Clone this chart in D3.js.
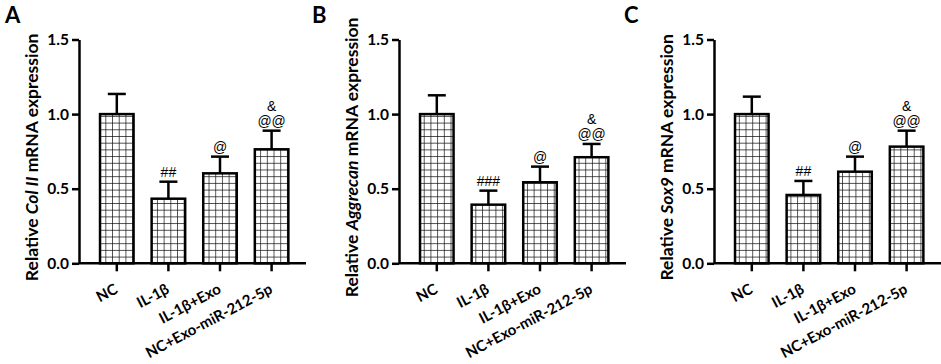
<!DOCTYPE html>
<html>
  <head>
    <meta charset="utf-8">
    <title>Relative mRNA expression</title>
    <script src="https://cdn.jsdelivr.net/npm/d3@7"></script>
    <style>
      body { margin: 0; background: #fff; }
      svg { display: block; }
      text { font-family: Lato, "Open Sans", sans-serif; }
      .axis path, .axis line { stroke: #000; stroke-width: 2.5px; }
      .axis text { font-size: 15.5px; font-weight: 700; fill: #000; }
      .xlab { font-size: 15px; font-weight: 700; }
      .ylabel { font-size: 17.5px; font-weight: 700; }
      .letter { font-size: 22px; font-weight: 700; }
      .mark { font-family: "Liberation Sans", Arial, sans-serif; font-size: 14px; }
    </style>
  </head>

  <body>
    <div id="container"></div>

    <script>
      // data
      groups = ["NC", "IL-1β", "IL-1β+Exo", "NC+Exo-miR-212-5p"];
      yTicks = [0, 0.5, 1.0, 1.5];

      colII = [1.0, 0.433, 0.603, 0.764];
      colIIErr = [0.135, 0.114, 0.112, 0.125];
      aggrecan = [1.0, 0.393, 0.543, 0.711];
      aggrecanErr = [0.126, 0.094, 0.105, 0.089];
      sox9 = [1.0, 0.458, 0.614, 0.782];
      sox9Err = [0.117, 0.094, 0.101, 0.107];

      colIIMarks = [[], ["##"], ["@"], ["@@", "&"]];
      aggrecanMarks = [[], ["###"], ["@"], ["@@", "&"]];
      sox9Marks = [[], ["##"], ["@"], ["@@", "&"]];

      panels = [
        {letter: "A", gene: "Col II", values: colII, err: colIIErr, marks: colIIMarks, left: 79, lx: 5},
        {letter: "B", gene: "Aggrecan", values: aggrecan, err: aggrecanErr, marks: aggrecanMarks, left: 399, lx: 312},
        {letter: "C", gene: "Sox9", values: sox9, err: sox9Err, marks: sox9Marks, left: 714, lx: 624}
      ];

      width = 941;
      height = 364;
      top0 = 39.5;
      base = 263.3;
      axisLen = 227;
      cell = 6.7;

      svg = d3.select("#container").append("svg")
        .attr("width", width)
        .attr("height", height);

      defs = svg.append("defs");

      yScale = d3.scaleLinear()
        .domain([0, 1.5])
        .range([base, top0]);

      xScale = d3.scaleBand()
        .domain(groups)
        .range([12, 12 + 4 * 51.6])
        .paddingInner(0.35)
        .paddingOuter(0.175);

      panels.forEach((p, pi) => {
        let g = svg.append("g")
          .attr("transform", "translate(" + p.left + ",0)");

        // panel letter
        svg.append("text")
          .classed("letter", true)
          .attr("x", p.lx)
          .attr("y", 23)
          .text(p.letter);

        // y label
        let lab = g.append("text")
          .classed("ylabel", true)
          .attr("transform", "translate(-41," + ((base + top0) / 2 + 6) + ") rotate(-90)")
          .attr("text-anchor", "middle");
        lab.append("tspan").text("Relative ");
        lab.append("tspan").style("font-style", "italic").text(p.gene);
        lab.append("tspan").text(" mRNA expression");

        // bars with grid pattern
        p.values.forEach((v, i) => {
          let bx = xScale(groups[i]);
          let id = "grid" + pi + "_" + i;
          let pat = defs.append("pattern")
            .attr("id", id)
            .attr("patternUnits", "userSpaceOnUse")
            .attr("x", p.left + bx)
            .attr("y", base)
            .attr("width", cell)
            .attr("height", cell);
          pat.append("rect")
            .attr("width", cell)
            .attr("height", cell)
            .attr("fill", "#fff");
          pat.append("path")
            .attr("d", "M0,0H" + cell + "M0,0V" + cell)
            .attr("stroke", "#111")
            .attr("stroke-width", 1.4);
        });

        g.selectAll(".bar")
          .data(p.values)
          .enter().append("rect")
            .classed("bar", true)
            .attr("x", (d, i) => xScale(groups[i]))
            .attr("width", xScale.bandwidth())
            .attr("y", d => yScale(d))
            .attr("height", d => yScale(0) - yScale(d))
            .attr("fill", (d, i) => "url(#grid" + pi + "_" + i + ")")
            .attr("stroke", "#000")
            .attr("stroke-width", 2.5);

        // error bars
        let eb = g.selectAll(".err")
          .data(p.values)
          .enter().append("g")
            .classed("err", true);
        eb.append("line")
          .attr("x1", (d, i) => xScale(groups[i]) + xScale.bandwidth() / 2)
          .attr("x2", (d, i) => xScale(groups[i]) + xScale.bandwidth() / 2)
          .attr("y1", d => yScale(d))
          .attr("y2", (d, i) => yScale(d + p.err[i]))
          .attr("stroke", "#000")
          .attr("stroke-width", 2.5);
        eb.append("line")
          .attr("x1", (d, i) => xScale(groups[i]) + xScale.bandwidth() / 2 - 9)
          .attr("x2", (d, i) => xScale(groups[i]) + xScale.bandwidth() / 2 + 9)
          .attr("y1", (d, i) => yScale(d + p.err[i]))
          .attr("y2", (d, i) => yScale(d + p.err[i]))
          .attr("stroke", "#000")
          .attr("stroke-width", 2.5);

        // significance marks
        p.values.forEach((v, i) => {
          p.marks[i].forEach((m, k) => {
            g.append("text")
              .classed("mark", true)
              .attr("text-anchor", "middle")
              .attr("x", xScale(groups[i]) + xScale.bandwidth() / 2)
              .attr("y", yScale(v + p.err[i]) - 5 - k * 15)
              .text(m);
          });
        });

        // axes
        g.append("g")
          .classed("axis y", true)
          .call(d3.axisLeft(yScale)
            .tickValues(yTicks)
            .tickFormat(d3.format(".1f"))
            .tickSizeInner(7)
            .tickSizeOuter(0)
            .tickPadding(3));

        let xa = g.append("g")
          .classed("axis x", true)
          .attr("transform", "translate(0," + base + ")")
          .call(d3.axisBottom(xScale)
            .tickSizeInner(8)
            .tickSizeOuter(0)
            .tickFormat(""));
        xa.select(".domain").attr("d", "M0,0H" + axisLen);

        g.selectAll(".xlab")
          .data(groups)
          .enter().append("text")
            .classed("xlab", true)
            .attr("text-anchor", "end")
            .attr("transform", d => "translate(" + (xScale(d) + xScale.bandwidth() / 2 + 2) + "," + (base + 29) + ") rotate(-28)")
            .text(d => d);
      });
    </script>
  </body>
</html>
